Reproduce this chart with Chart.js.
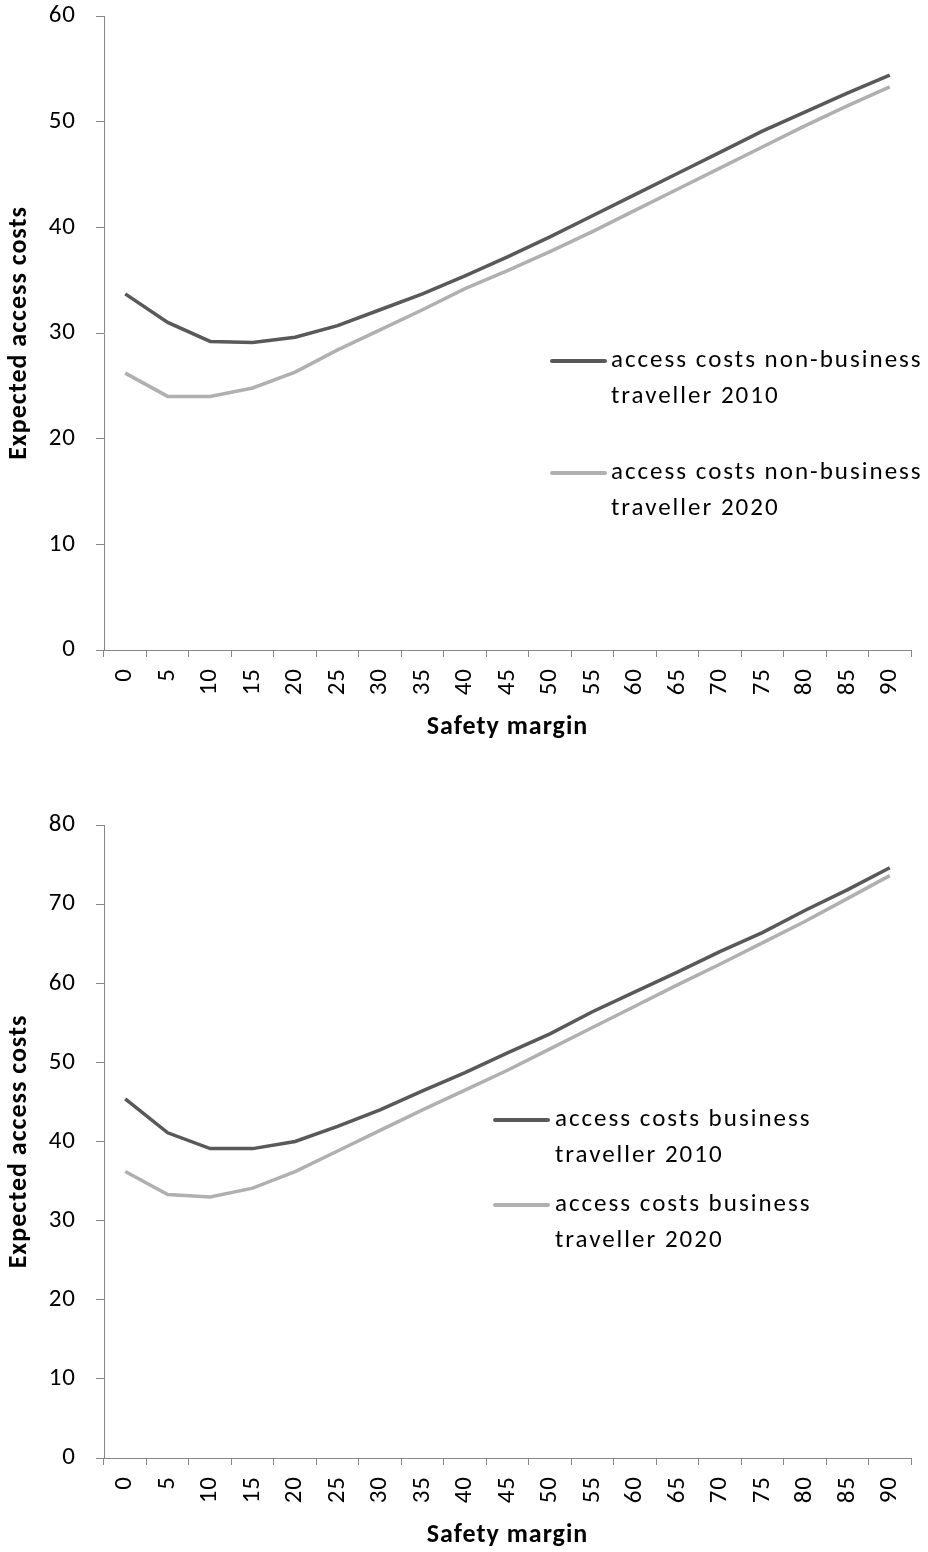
<!DOCTYPE html>
<html>
<head>
<meta charset="utf-8">
<script src="https://cdn.jsdelivr.net/npm/chart.js@4.4.1/dist/chart.umd.min.js"></script>
<style>
  html, body { margin: 0; padding: 0; background: #ffffff; }
  .wrap { position: absolute; left: 0; width: 928px; height: 776px; }
  #w1 { top: 0; }
  #w2 { top: 776px; }
</style>
</head>
<body>
<div class="wrap" id="w1"><canvas id="c1" width="928" height="776"></canvas></div>
<div class="wrap" id="w2"><canvas id="c2" width="928" height="776"></canvas></div>
<script>
// ---- data ----
const categories = ['0','5','10','15','20','25','30','35','40','45','50','55','60','65','70','75','80','85','90'];

const nonBusiness2010 = [33.7, 31.0, 29.2, 29.1, 29.6, 30.7, 32.2, 33.7, 35.4, 37.2, 39.1, 41.1, 43.1, 45.1, 47.1, 49.1, 50.9, 52.7, 54.4];
const nonBusiness2020 = [26.2, 24.0, 24.0, 24.8, 26.3, 28.4, 30.3, 32.2, 34.2, 35.9, 37.7, 39.6, 41.6, 43.6, 45.6, 47.6, 49.6, 51.5, 53.3];

const business2010 = [45.4, 41.1, 39.1, 39.1, 40.0, 41.9, 44.0, 46.4, 48.7, 51.2, 53.6, 56.4, 58.9, 61.4, 64.0, 66.4, 69.2, 71.8, 74.6];
const business2020 = [36.2, 33.3, 33.0, 34.1, 36.2, 38.8, 41.4, 44.0, 46.5, 49.0, 51.7, 54.4, 57.1, 59.8, 62.4, 65.1, 67.8, 70.7, 73.6];

const seriesLabels1 = ['access costs non-business traveller 2010', 'access costs non-business traveller 2020'];
const seriesLabels2 = ['access costs business traveller 2010', 'access costs business traveller 2020'];

const yAxisTitle = 'Expected access costs';
const xAxisTitle = 'Safety margin';

// ---- styles ----
const FONT = 'Carlito, Lato, "Open Sans", sans-serif';
const DARK = '#595959';
const LIGHT = '#b0b0b0';
const AXIS = '#868686';
const AXIS_SPACING = '1px';

const spacing = {
  id: 'spacing',
  beforeUpdate(chart) { chart.ctx.letterSpacing = AXIS_SPACING; },
  beforeLayout(chart) { chart.ctx.letterSpacing = AXIS_SPACING; },
  beforeDraw(chart) { chart.ctx.letterSpacing = AXIS_SPACING; }
};

const wrapLegend = {
  id: 'wrapLegend',
  afterDraw(chart, args, opts) {
    const ctx = chart.ctx;
    ctx.save();
    ctx.font = opts.font;
    ctx.letterSpacing = opts.letterSpacing;
    ctx.fillStyle = '#000';
    ctx.textBaseline = 'middle';
    ctx.textAlign = 'left';
    chart.data.datasets.forEach((ds, i) => {
      const y = opts.y + i * opts.gap;
      ctx.strokeStyle = ds.borderColor;
      ctx.lineWidth = 4;
      ctx.lineCap = 'round';
      ctx.beginPath();
      ctx.moveTo(opts.x, y);
      ctx.lineTo(opts.x + opts.sample, y);
      ctx.stroke();
      const words = ds.label.split(' ');
      const lines = [];
      let cur = '';
      words.forEach(w => {
        const t = cur ? cur + ' ' + w : w;
        if (ctx.measureText(t).width > opts.maxWidth && cur) { lines.push(cur); cur = w; }
        else cur = t;
      });
      if (cur) lines.push(cur);
      lines.forEach((ln, k) => {
        ctx.fillText(ln, opts.x + opts.sample + opts.textGap, y + opts.textShift + k * opts.lineHeight);
      });
    });
    ctx.restore();
  }
};

function makeChart(id, labels, d1, d2, yMax, pad, legendOpts) {
  const H = 776;
  return new Chart(document.getElementById(id), {
    type: 'line',
    data: {
      labels: categories,
      datasets: [
        { label: labels[0], data: d1, borderColor: DARK, borderWidth: 3.5, pointRadius: 0, tension: 0, fill: false },
        { label: labels[1], data: d2, borderColor: LIGHT, borderWidth: 3.5, pointRadius: 0, tension: 0, fill: false }
      ]
    },
    options: {
      responsive: false,
      animation: false,
      layout: { padding: { top: pad.top, right: 17, left: 0, bottom: 0 } },
      plugins: {
        legend: { display: false },
        tooltip: { enabled: false },
        wrapLegend: legendOpts
      },
      scales: {
        x: {
          offset: true,
          grid: { display: true, drawOnChartArea: false, drawTicks: true, tickLength: 7, color: AXIS, offset: true },
          border: { display: true, color: AXIS, width: 1 },
          ticks: { autoSkip: false, minRotation: 90, maxRotation: 90, padding: 11, color: '#000', font: { family: FONT, size: 25 } },
          title: { display: true, text: xAxisTitle, color: '#000', font: { family: FONT, size: 26, weight: 'bold' }, padding: { top: 0, bottom: pad.xTitle } },
          afterFit(scale) { scale.height = H - pad.bottomPlot; scale.paddingRight = 0; scale.paddingLeft = 0; }
        },
        y: {
          min: 0, max: yMax,
          ticks: { stepSize: 10, padding: 20, color: '#000', font: { family: FONT, size: 25 } },
          grid: { display: true, drawOnChartArea: false, drawTicks: true, tickLength: 8, color: AXIS },
          border: { display: true, color: AXIS, width: 1 },
          title: { display: true, text: yAxisTitle, color: '#000', font: { family: FONT, size: 26, weight: 'bold' }, padding: { top: 4, bottom: 0 } },
          afterFit(scale) { scale.width = 104; scale.paddingTop = 0; }
        }
      }
    },
    plugins: [spacing, wrapLegend]
  });
}

makeChart('c1', seriesLabels1, nonBusiness2010, nonBusiness2020, 60,
  { top: 16, bottomPlot: 650, xTitle: 33 },
  { x: 552, y: 361, gap: 112, sample: 53, textGap: 6, textShift: 0, lineHeight: 36, maxWidth: 330, font: '25px ' + FONT, letterSpacing: '2px' });

makeChart('c2', seriesLabels2, business2010, business2020, 80,
  { top: 49, bottomPlot: 682, xTitle: 1 },
  { x: 495, y: 344, gap: 85, sample: 53, textGap: 7, textShift: 0, lineHeight: 36, maxWidth: 330, font: '25px ' + FONT, letterSpacing: '2px' });
</script>
</body>
</html>
